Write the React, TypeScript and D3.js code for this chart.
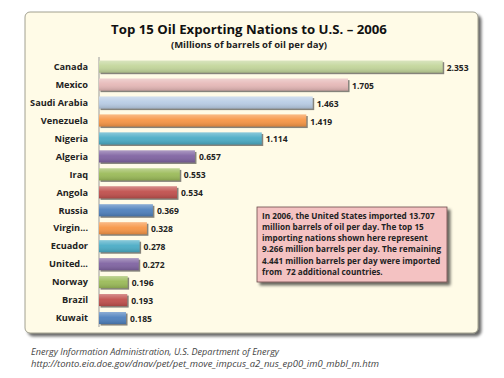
import React from "react";
import * as d3 from "d3";

const countries = ["Canada","Mexico","Saudi Arabia","Venezuela","Nigeria","Algeria","Iraq","Angola","Russia","Virgin...","Ecuador","United...","Norway","Brazil","Kuwait"];
const values = [2.353,1.705,1.463,1.419,1.114,0.657,0.553,0.534,0.369,0.328,0.278,0.272,0.196,0.193,0.185];
const colors = ["#C3D69B","#E6B9B8","#B9CDE5","#F79646","#4BACC6","#8064A2","#9BBB59","#C0504D","#4F81BD","#F79646","#4BACC6","#8064A2","#9BBB59","#C0504D","#4F81BD"];
const noteLines = [
  "In 2006, the United States imported 13.707",
  "million barrels of oil per day. The top 15",
  "importing nations shown here represent",
  "9.266 million barrels per day. The remaining",
  "4.441 million barrels per day were imported",
  "from  72 additional countries."
];
const title = "Top 15 Oil Exporting Nations to U.S. – 2006";
const subtitle = "(Millions of barrels of oil per day)";
const sourceLines = [
  "Energy Information Administration, U.S. Department of Energy",
  "http://tonto.eia.doe.gov/dnav/pet/pet_move_impcus_a2_nus_ep00_im0_mbbl_m.htm"
];

export default function App() {
  const W = 504, H = 378;
  const x = d3.scaleLinear().domain([0, 2.353]).range([99, 442.7]);
  const y = d3.scaleBand().domain(countries).range([57.7, 327]).paddingInner(0.33).paddingOuter(0.165);
  const bh = y.bandwidth();
  const font = "'Open Sans', 'Noto Sans', sans-serif";
  return (
    <svg width={W} height={H} style={{ position: "absolute", left: 0, top: 0 }} fontFamily={font}>
      <defs>
        <linearGradient id="barShade" x1="0" y1="0" x2="0" y2="1">
          <stop offset="0" stopColor="#fff" stopOpacity="0.35" />
          <stop offset="0.45" stopColor="#fff" stopOpacity="0.05" />
          <stop offset="1" stopColor="#000" stopOpacity="0.15" />
        </linearGradient>
        <filter id="sh" x="-5%" y="-5%" width="115%" height="115%">
          <feGaussianBlur in="SourceAlpha" stdDeviation="1.5" />
          <feOffset dx="3" dy="3" result="b" />
          <feComponentTransfer><feFuncA type="linear" slope="0.6" /></feComponentTransfer>
          <feMerge><feMergeNode /><feMergeNode in="SourceGraphic" /></feMerge>
        </filter>
      </defs>
      <rect width={W} height={H} fill="#fff" />
      <rect x={25} y={12} width={453} height={321} rx={5} fill="#FFFBE7" stroke="#8a8a7a" strokeWidth={0.8} filter="url(#sh)" />
      <text x={249} y={34} textAnchor="middle" fontSize={13.2} fontWeight="bold" fill="#111">{title}</text>
      <text x={249} y={48} textAnchor="middle" fontSize={9.5} fontWeight="bold" fill="#222">{subtitle}</text>
      <line x1={99} x2={99} y1={57} y2={327} stroke="#999" strokeWidth={1} />
      {countries.map((c, i) => {
        const yy = y(c)!;
        const w = x(values[i]) - x(0);
        return (
          <g key={c}>
            <rect x={x(0) + 1.5} y={yy + 1.5} width={w} height={bh} fill="#333" opacity={0.6} />
            <rect x={x(0)} y={yy} width={w} height={bh} fill={colors[i]} />
            <rect x={x(0)} y={yy} width={w} height={bh} fill="url(#barShade)" />
            <text x={88} y={yy + bh / 2} dy="0.35em" textAnchor="end" fontSize={9.2} fontWeight="bold" fill="#222">{c}</text>
            <text x={x(values[i]) + 4} y={yy + bh / 2 + 1} dy="0.35em" fontSize={8.5} fontWeight="bold" fill="#222">{values[i].toFixed(3)}</text>
          </g>
        );
      })}
      <rect x={257} y={207} width={190} height={75} fill="#F4C2C2" stroke="#6b4a4a" strokeWidth={0.8} filter="url(#sh)" />
      {noteLines.map((l, i) => (
        <text key={i} x={262} y={218.5 + i * 11.3} fontSize={8.2} fontWeight="bold" fill="#222" xmlSpace="preserve">{l}</text>
      ))}
      {sourceLines.map((l, i) => (
        <text key={i} x={31} y={355 + i * 12} fontSize={9.2} fontStyle="italic" fill="#444" textLength={i === 0 ? 248 : 348} lengthAdjust="spacingAndGlyphs">{l}</text>
      ))}
    </svg>
  );
}
